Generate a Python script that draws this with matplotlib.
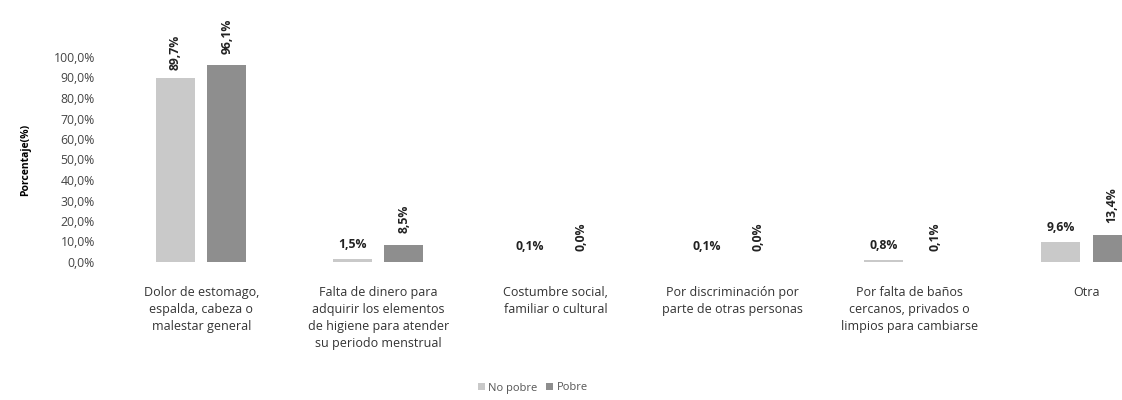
import matplotlib

matplotlib.use("Agg")
import matplotlib.pyplot as plt
import numpy as np
from matplotlib.ticker import FuncFormatter

categories = [
    "Dolor de estomago,\nespalda, cabeza o\nmalestar general",
    "Falta de dinero para\nadquirir los elementos\nde higiene para atender\nsu periodo menstrual",
    "Costumbre social,\nfamiliar o cultural",
    "Por discriminación por\nparte de otras personas",
    "Por falta de baños\ncercanos, privados o\nlimpios para cambiarse",
    "Otra",
]
no_pobre = [89.7, 1.5, 0.1, 0.1, 0.8, 9.6]
pobre = [96.1, 8.5, 0.0, 0.0, 0.1, 13.4]
series_names = ["No pobre", "Pobre"]

C_NP = "#c9c9c9"
C_P = "#8e8e8e"
FONT = ["Open Sans", "DejaVu Sans"]


def pct(v):
    return f"{v:.1f}".replace(".", ",") + "%"


plt.rcParams["font.family"] = FONT

fig = plt.figure(figsize=(11.22, 4.0), dpi=100)
ax = fig.add_axes([0.102, 0.345, 0.898, 0.5125])

x = np.arange(len(categories))
w = 0.22
off = 0.145
b1 = ax.bar(x - off, no_pobre, w, color=C_NP, label=series_names[0])
b2 = ax.bar(x + off, pobre, w, color=C_P, label=series_names[1])

# value labels: the big "No pobre" bar is rotated, the rest horizontal
for xi, v in zip(x, no_pobre):
    rot = 90 if v > 50 else 0
    ax.annotate(pct(v), (xi - off, v), xytext=(0, 6), textcoords="offset points",
                ha="center", va="bottom", rotation=rot, fontsize=8.8,
                fontweight="bold", color="#222222", annotation_clip=False)
for xi, v in zip(x, pobre):
    ax.annotate(pct(v), (xi + off, v), xytext=(0, 8), textcoords="offset points",
                ha="center", va="bottom", rotation=90, fontsize=8.8,
                fontweight="bold", color="#222222", annotation_clip=False)

ax.set_xlim(-0.49, 5.2)
ax.set_ylim(0, 100)
ax.set_yticks(np.arange(0, 101, 10))
ax.yaxis.set_major_formatter(FuncFormatter(lambda v, _: pct(v)))
ax.tick_params(axis="y", length=0, labelsize=8.8, labelcolor="#444444", pad=14)
ax.set_xticks(x)
ax.set_xticklabels(categories, fontsize=9, color="#333333", linespacing=1.4)
ax.tick_params(axis="x", length=0, pad=17)
for s in ax.spines.values():
    s.set_visible(False)

ax.set_ylabel("Porcentaje(%)", fontsize=7.5, fontweight="bold", labelpad=16)

fig.legend(handles=[b1, b2], loc="center", bbox_to_anchor=(0.475, 0.03), ncol=2,
           frameon=False, fontsize=8, handlelength=0.6, handleheight=0.6,
           handletextpad=0.3, columnspacing=0.8, labelcolor="#555555")

fig.savefig("out.png", dpi=100)
